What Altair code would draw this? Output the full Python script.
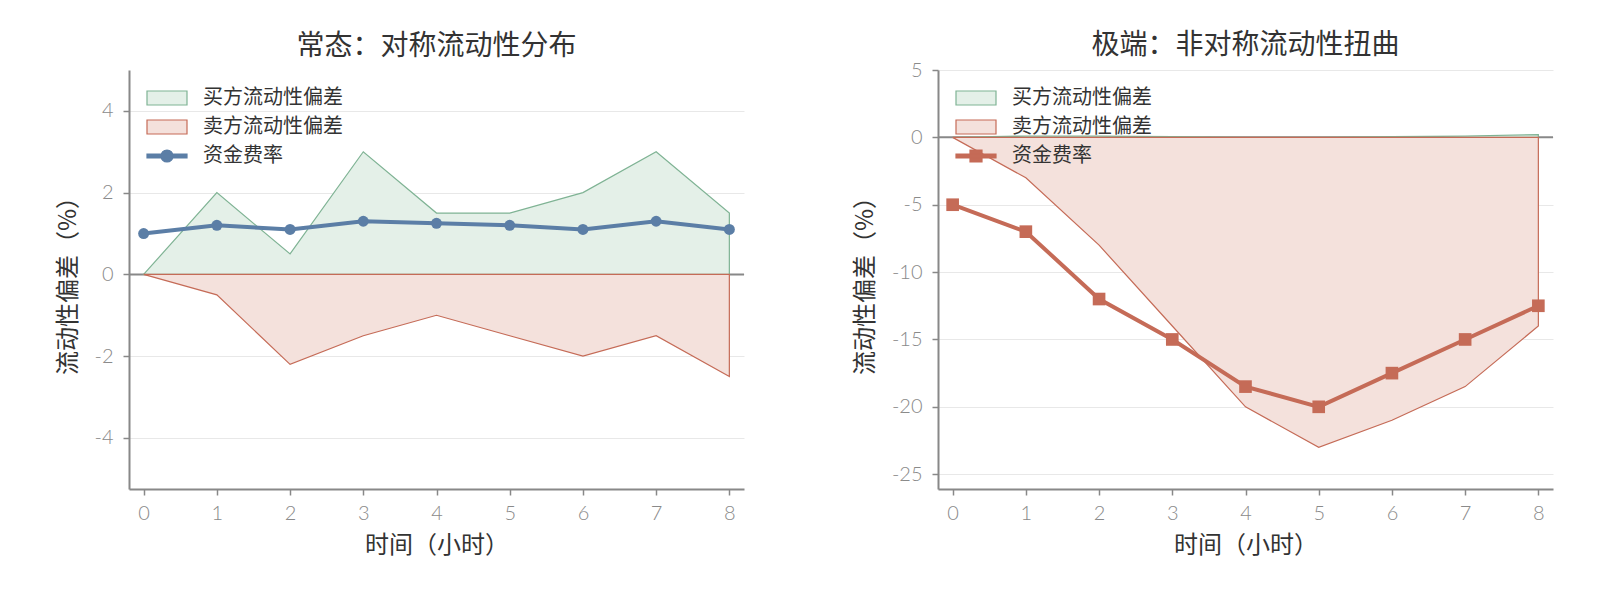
import altair as alt
import pandas as pd

HOURS = list(range(9))
SERIES = ["买方流动性偏差", "卖方流动性偏差", "资金费率"]

# 常态
NORMAL_BUY = [0, 2, 0.5, 3, 1.5, 1.5, 2, 3, 1.5]
NORMAL_SELL = [0, -0.5, -2.2, -1.5, -1.0, -1.5, -2.0, -1.5, -2.5]
NORMAL_FUNDING = [1.0, 1.2, 1.1, 1.3, 1.25, 1.2, 1.1, 1.3, 1.1]

# 极端
EXTREME_BUY = [0, 0.1, 0.1, 0.05, 0.0, 0.0, 0.05, 0.1, 0.2]
EXTREME_SELL = [0, -3, -8, -14, -20, -23, -21, -18.5, -14]
EXTREME_FUNDING = [-5, -7, -12, -15, -18.5, -20, -17.5, -15, -12.5]

NORMAL_TICKS = [-4, -2, 0, 2, 4]
EXTREME_TICKS = [-25, -20, -15, -10, -5, 0, 5]

GREEN, RED, BLUE = "#7fb394", "#c56b57", "#5b7ea6"
GREEN_FILL, RED_FILL = "#e4f0e8", "#f4e1dc"

CJK = "Noto Sans CJK SC"

# legend glyphs (unit = 10px with symbolSize 400)
RECT = "M-2,-0.7H2V0.7H-2Z"
LINE_DOT = "M-2,-0.2H2V0.2H-2Z M-0.6,0A0.6,0.6 0 1,1 0.6,0A0.6,0.6 0 1,1 -0.6,0Z"
LINE_SQUARE = "M-2,-0.2H2V0.2H-2Z M-0.6,-0.6H0.6V0.6H-0.6Z"


def panel(title, buy, sell, funding, fund_color, marker, legend_glyph, y_domain, y_ticks,
          title_offset):
    df = pd.DataFrame({
        "hour": HOURS * 3,
        "series": [s for s in SERIES for _ in HOURS],
        "value": buy + sell + funding,
    })

    legend = alt.Legend(
        title=None, orient="none", legendX=27, legendY=17, padding=0,
        symbolSize=400, symbolStrokeWidth=1.2, symbolOpacity=1,
        labelFont=CJK, labelFontSize=20, labelColor="#333",
        labelOffset=25, rowPadding=8,
    )
    x = alt.X("hour:Q", scale=alt.Scale(domain=[-0.2, 8.2], nice=False),
              axis=alt.Axis(values=HOURS, format="d", grid=False, title="时间（小时）",
                            labelPadding=8, titlePadding=10))
    y = alt.Y("value:Q", scale=alt.Scale(domain=y_domain, nice=False, zero=False),
              axis=alt.Axis(values=y_ticks, format="d", grid=True, title="流动性偏差（%）",
                            labelExpr="replace(datum.label, '−', '-')",
                            labelPadding=10, titlePadding=14))
    fill = alt.Fill("series:N", legend=legend,
                    scale=alt.Scale(domain=SERIES, range=[GREEN_FILL, RED_FILL, fund_color]))
    stroke = alt.Stroke("series:N", legend=legend,
                        scale=alt.Scale(domain=SERIES, range=[GREEN, RED, fund_color]))
    shape = alt.Shape("series:N", legend=legend,
                      scale=alt.Scale(domain=SERIES, range=[RECT, RECT, legend_glyph]))

    base = alt.Chart(df)
    zero = alt.Chart(pd.DataFrame({"value": [0]})).mark_rule(
        color="#888", strokeWidth=2).encode(y="value:Q")
    areas = base.transform_filter(alt.datum.series != SERIES[2]).mark_area(
        strokeWidth=1.2, opacity=1).encode(x=x, y=y, y2=alt.datum(0), fill=fill, stroke=stroke)
    line = base.transform_filter(alt.datum.series == SERIES[2]).mark_line(
        strokeWidth=4).encode(x=x, y=y, stroke=stroke)
    points = base.transform_filter(alt.datum.series == SERIES[2]).mark_point(
        filled=True, opacity=1, shape=marker[0], size=marker[1]).encode(x=x, y=y, fill=fill)
    legend_only = base.transform_filter("false").mark_point(filled=True).encode(
        x=x, y=y, shape=shape, fill=fill, stroke=stroke)

    return alt.layer(zero, areas, line, points, legend_only).properties(
        width=615, height=419,
        title=alt.TitleParams(title, font=CJK, fontSize=28, fontWeight="normal",
                              color="#333", offset=title_offset, frame="group"),
    )


left = panel("常态：对称流动性分布", NORMAL_BUY, NORMAL_SELL, NORMAL_FUNDING,
             BLUE, ("circle", 120), LINE_DOT, [-5.25, 5], NORMAL_TICKS, 9)
right = panel("极端：非对称流动性扭曲", EXTREME_BUY, EXTREME_SELL, EXTREME_FUNDING,
              RED, ("square", 160), LINE_SQUARE, [-26.1, 5], EXTREME_TICKS, 0)

chart = (
    alt.hconcat(left, right, spacing=108)
    .resolve_scale(x="independent", y="independent", fill="independent",
                   stroke="independent", shape="independent")
    .properties(padding={"left": 48, "top": 24, "right": 5, "bottom": 5})
    .configure_view(stroke=None)
    .configure_axis(
        domainColor="#888", domainWidth=2, tickColor="#888", tickWidth=1.5, tickSize=6,
        labelFont="Lato", labelFontWeight=300, labelFontSize=20, labelColor="#8a8a8a",
        titleFont=CJK, titleFontSize=24, titleFontWeight="normal", titleColor="#333",
        gridColor="#e8e8e8", gridWidth=1,
    )
)

chart.save("out.html", embed_options={"renderer": "svg", "actions": False})
